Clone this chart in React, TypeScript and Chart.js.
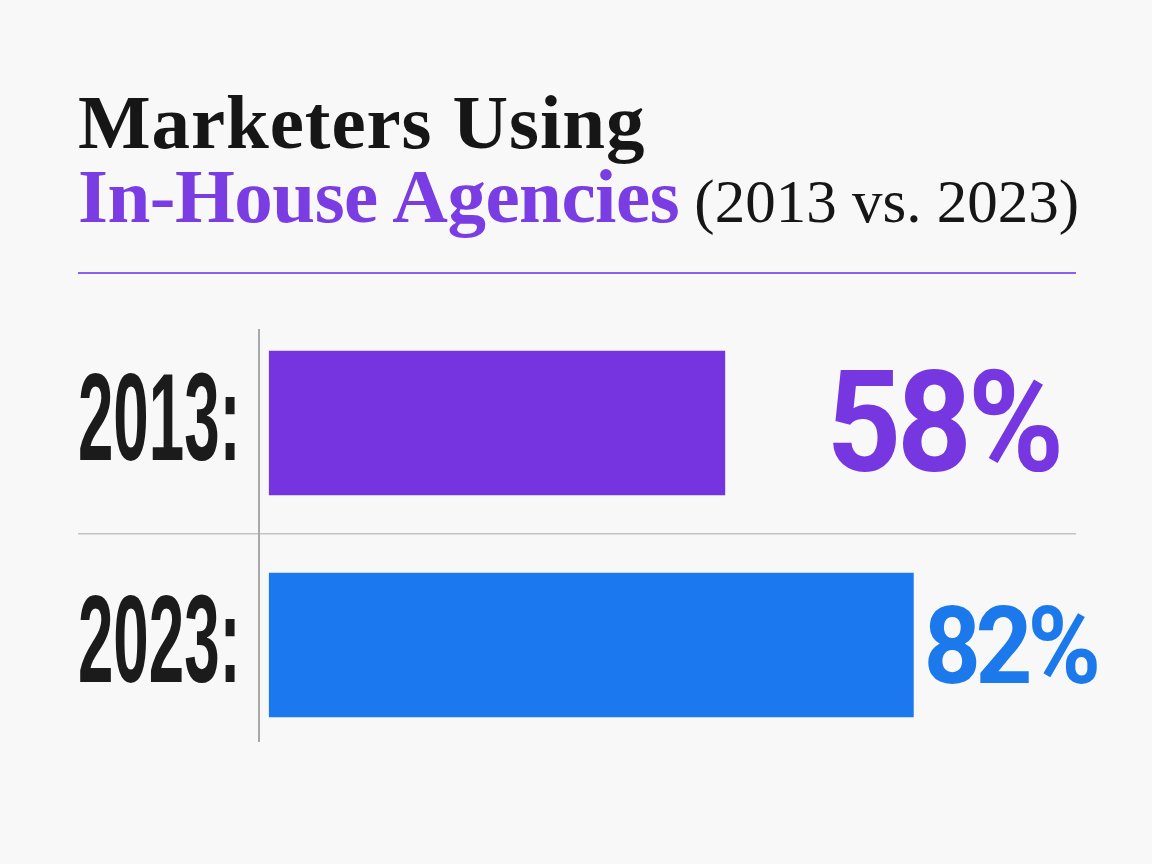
import React, { useEffect, useRef } from "react";
import { Chart, registerables } from "chart.js";

Chart.register(...registerables);

// ---- data ----
const categories = ["2013", "2023"];
const values = [58, 82];
const tickLabels = categories.map((c) => c + ":");
const valueLabels = values.map((v) => v + "%");

// ---- styles ----
const barColors = ["#7534e0", "#1b78ee"];
const labelColors = ["#7636e0", "#1c79ec"];
const labelGap = [108, 14];
const labelInkHeight = [105, 80];
const labelInkWidth = [226, 170];
const labelDy = [-4, -1];
const tickInkHeight = 88;
const tickInkWidth = 155;

function drawFitted(
  ctx: CanvasRenderingContext2D,
  text: string,
  family: string,
  weight: string,
  left: number,
  centerY: number,
  inkW: number,
  inkH: number,
  color: string,
  fixedSx: number | null
) {
  ctx.save();
  ctx.font = `${weight} 100px ${family}`;
  const md = ctx.measureText("8");
  const digitH = md.actualBoundingBoxAscent + Math.max(0, md.actualBoundingBoxDescent);
  const size = (100 * inkH) / digitH;
  ctx.font = `${weight} ${size}px ${family}`;
  const m8 = ctx.measureText("8");
  const desc = Math.max(0, m8.actualBoundingBoxDescent);
  const m2 = ctx.measureText(text);
  const w = m2.actualBoundingBoxLeft + m2.actualBoundingBoxRight;
  let sx = inkW / w;
  let spacing = 0;
  if (fixedSx !== null) {
    sx = fixedSx;
    spacing = (inkW / sx - w) / Math.max(1, text.length - 1);
  }
  const baseline = centerY + inkH / 2 - desc;
  ctx.translate(left, baseline);
  ctx.scale(sx, 1);
  ctx.textAlign = "left";
  ctx.textBaseline = "alphabetic";
  ctx.fillStyle = color;
  if (spacing !== 0) {
    // draw char by char with adjusted spacing
    let x = m2.actualBoundingBoxLeft;
    for (const ch of text) {
      ctx.fillText(ch, x, 0);
      x += ctx.measureText(ch).width + spacing;
    }
  } else {
    ctx.fillText(text, m2.actualBoundingBoxLeft, 0);
  }
  ctx.restore();
}

const labelPlugin = {
  id: "labelPlugin",
  beforeDatasetsDraw(chart: any) {
    const ctx = chart.ctx as CanvasRenderingContext2D;
    const x = chart.chartArea.left;
    ctx.save();
    ctx.strokeStyle = "#a9a9a9";
    ctx.lineWidth = 2;
    ctx.beginPath();
    ctx.moveTo(x, chart.chartArea.top + 17);
    ctx.lineTo(x, chart.chartArea.bottom - 14);
    ctx.stroke();
    ctx.restore();
  },
  afterDatasetsDraw(chart: any) {
    const ctx = chart.ctx as CanvasRenderingContext2D;
    const meta = chart.getDatasetMeta(0);
    const yScale = chart.scales.y;
    meta.data.forEach((bar: any, i: number) => {
      drawFitted(
        ctx,
        tickLabels[i],
        "'Liberation Sans', Arial, sans-serif",
        "bold",
        yScale.left + 2,
        bar.y - 6,
        tickInkWidth,
        tickInkHeight,
        "#1b1b1b",
        null
      );
      drawFitted(
        ctx,
        valueLabels[i],
        "Roboto, 'Liberation Sans', sans-serif",
        "bold",
        bar.x + labelGap[i],
        bar.y + labelDy[i],
        labelInkWidth[i],
        labelInkHeight[i],
        labelColors[i],
        0.92
      );
    });
  },
};

export default function App() {
  const ref = useRef<HTMLCanvasElement | null>(null);

  useEffect(() => {
    if (!ref.current) return;
    const chart = new Chart(ref.current, {
      type: "bar",
      data: {
        labels: categories,
        datasets: [
          {
            data: values,
            backgroundColor: barColors,
            borderWidth: 0,
            barThickness: 144,
          },
        ],
      },
      options: {
        indexAxis: "y",
        animation: false,
        responsive: false,
        devicePixelRatio: 1,
        events: [],
        layout: { padding: { left: 78, right: 76, top: 312, bottom: 108 } },
        plugins: {
          legend: { display: false },
          tooltip: { enabled: false },
          title: { display: false },
        },
        scales: {
          x: {
            display: false,
            min: -1.3,
            max: 102.7,
          },
          y: {
            type: "category",
            offset: true,
            border: { display: false },
            ticks: { display: false },
            grid: {
              offset: true,
              drawTicks: true,
              tickLength: 181,
              lineWidth: 1.5,
              color: (c: any) => (c.index === 1 ? "#c4c4c4" : "rgba(0,0,0,0)"),
            },
          },
        },
      },
      plugins: [labelPlugin],
    });
    return () => chart.destroy();
  }, []);

  const serif = "'Liberation Serif', 'Times New Roman', serif";
  return (
    <div
      style={{
        position: "fixed",
        left: 0,
        top: 0,
        width: 1152,
        height: 864,
        background: "#f8f8f8",
        overflow: "hidden",
      }}
    >
      <div
        style={{
          position: "absolute",
          left: 78,
          top: 85,
          fontFamily: serif,
          fontWeight: 700,
          fontSize: 77,
          lineHeight: "74px",
          letterSpacing: "0.9px",
          color: "#161616",
          whiteSpace: "nowrap",
        }}
      >
        Marketers Using
      </div>
      <div
        style={{
          position: "absolute",
          left: 78,
          top: 159,
          fontFamily: serif,
          fontSize: 77,
          lineHeight: "74px",
          whiteSpace: "nowrap",
        }}
      >
        <span style={{ color: "#7a3ce3", fontWeight: 700, letterSpacing: "-0.5px" }}>
          In-House Agencies
        </span>
        <span style={{ color: "#161616", fontWeight: 400, fontSize: 61 }}> (2013 vs. 2023)</span>
      </div>
      <div
        style={{
          position: "absolute",
          left: 78,
          top: 272,
          width: 998,
          height: 2,
          background: "#8d5ef2",
        }}
      />
      <canvas
        ref={ref}
        width={1152}
        height={864}
        style={{ position: "absolute", left: 0, top: 0, width: 1152, height: 864 }}
      />
    </div>
  );
}
